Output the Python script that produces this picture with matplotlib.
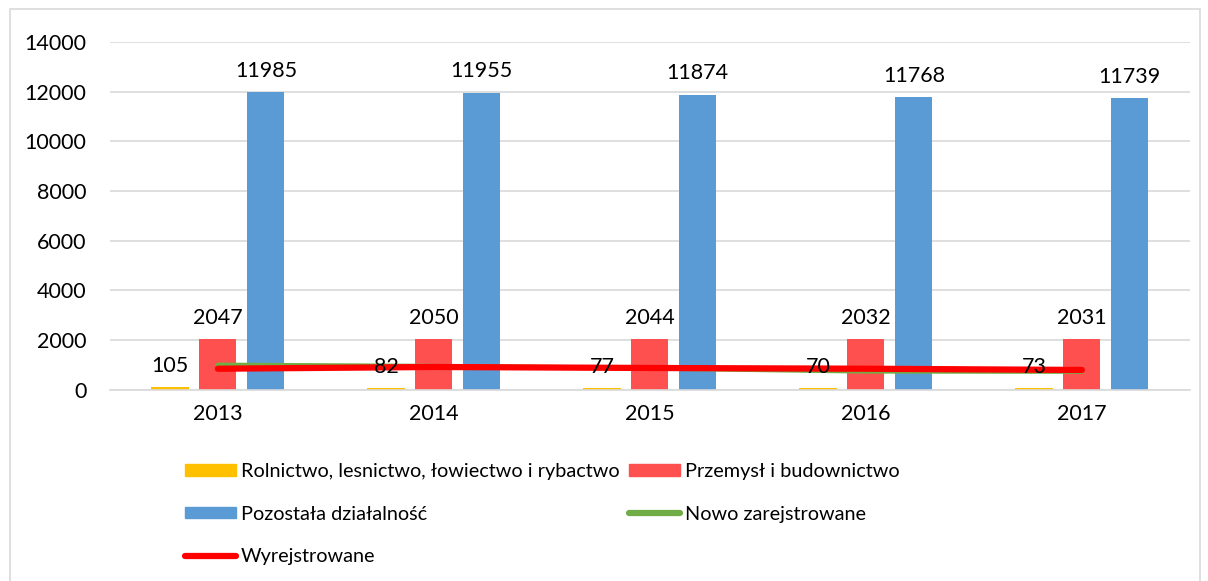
import matplotlib.pyplot as plt
import numpy as np
from matplotlib.patches import Rectangle
from matplotlib.lines import Line2D

plt.rcParams['font.family'] = ['Lato', 'DejaVu Sans']

years = ['2013', '2014', '2015', '2016', '2017']
rolnictwo = [105, 82, 77, 70, 73]
przemysl = [2047, 2050, 2044, 2032, 2031]
pozostala = [11985, 11955, 11874, 11768, 11739]
nowo = [1000, 950, 870, 750, 740]
wyrej = [850, 920, 880, 850, 800]

c_yel = '#ffc000'
c_red = '#ff5050'
c_blue = '#5b9bd5'
c_green = '#70ad47'
c_line = '#ff0000'

fig = plt.figure(figsize=(12.08, 5.81), dpi=100)
fig.patches.append(Rectangle((0.008, -0.01), 0.985, 0.995, transform=fig.transFigure,
                             fill=False, edgecolor='#d9d9d9', linewidth=1.2))
ax = fig.add_axes([0.091, 0.329, 0.894, 0.599])

x = np.arange(len(years))
w = 0.172
off = 0.222
b1 = ax.bar(x - off, rolnictwo, w, color=c_yel, zorder=2)
b2 = ax.bar(x, przemysl, w, color=c_red, zorder=2)
b3 = ax.bar(x + off, pozostala, w, color=c_blue, zorder=2)
for bars, vals in [(b1, rolnictwo), (b2, przemysl), (b3, pozostala)]:
    for b, v in zip(bars, vals):
        ax.text(b.get_x() + b.get_width() / 2, v + 450, str(v), ha='center', va='bottom',
                fontsize=15.5, color='black', zorder=4)

ax.plot(x, nowo, color=c_green, linewidth=3.5, zorder=3, solid_capstyle='round')
ax.plot(x, wyrej, color=c_line, linewidth=4.5, zorder=3, solid_capstyle='round')

ax.set_xlim(-0.5, len(years) - 0.5)
ax.set_ylim(0, 14000)
ax.set_yticks(np.arange(0, 14001, 2000))
ax.set_xticks(x)
ax.set_xticklabels(years)
ax.tick_params(axis='both', length=0, labelsize=15.5, colors='black')
ax.tick_params(axis='x', pad=10)
ax.tick_params(axis='y', pad=17)
ax.grid(axis='y', color='#d9d9d9', linewidth=1.2, zorder=0)
for s in ['top', 'right', 'left']:
    ax.spines[s].set_visible(False)
ax.spines['bottom'].set_color('#d9d9d9')
ax.spines['bottom'].set_linewidth(1.2)

handles = [
    Rectangle((0, 0), 1, 1, color=c_yel),
    Rectangle((0, 0), 1, 1, color=c_blue),
    Line2D([0], [0], color=c_line, linewidth=4.5, solid_capstyle='round'),
    Rectangle((0, 0), 1, 1, color=c_red),
    Line2D([0], [0], color=c_green, linewidth=4.5, solid_capstyle='round'),
]
labels = ['Rolnictwo, lesnictwo, łowiectwo i rybactwo', 'Pozostała działalność', 'Wyrejstrowane',
          'Przemysł i budownictwo', 'Nowo zarejstrowane']
fig.legend(handles, labels, ncol=2, loc='upper left', bbox_to_anchor=(0.145, 0.22),
           frameon=False, fontsize=14.3, handlelength=2.55, handleheight=0.5,
           handletextpad=0.25, labelspacing=1.28, columnspacing=0.5, borderpad=0)

fig.savefig('out.png', dpi=100)
